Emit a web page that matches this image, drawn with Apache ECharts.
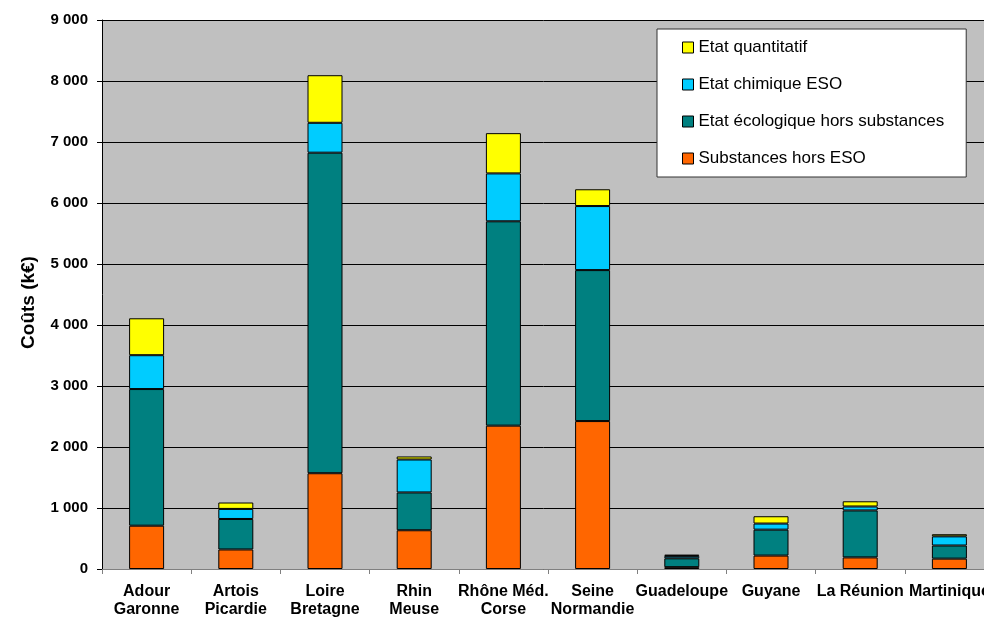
<!DOCTYPE html>
<html>
<head>
<meta charset="utf-8">
<script src="https://cdn.jsdelivr.net/npm/echarts@6/dist/echarts.min.js"></script>
<style>
  html, body { margin: 0; padding: 0; background: #fff; }
  #chart { width: 984px; height: 617px; }
</style>
</head>
<body>
<div id="chart"></div>
<script>
// Bassins (two-line labels)
const categories = [
  'Adour\nGaronne', 'Artois\nPicardie', 'Loire\nBretagne', 'Rhin\nMeuse',
  'Rhône Méd.\nCorse', 'Seine\nNormandie', 'Guadeloupe', 'Guyane',
  'La Réunion', 'Martinique'
];

// Coûts par composante (k€), stacked bottom to top
const substancesHorsESO   = [710, 320, 1570, 635, 2350, 2425, 30, 220, 190, 170];
const ecologiqueHorsSubst = [2240, 500, 5255, 620, 3350, 2475, 145, 425, 770, 215];
const chimiqueESO         = [555, 165, 490, 540, 785, 1050, 40, 100, 65, 150];
const quantitatif         = [605, 105, 780, 50, 660, 275, 20, 120, 85, 35];

const yTicks = { min: 0, max: 9000, interval: 1000 };

const seriesNames = {
  subst: 'Substances hors ESO',
  eco: 'Etat écologique hors substances',
  chim: 'Etat chimique ESO',
  quant: 'Etat quantitatif'
};

const colors = {
  subst: '#FF6600',
  eco: '#008080',
  chim: '#00CCFF',
  quant: '#FFFF00'
};

const FONT = 'Liberation Sans, Arial, sans-serif';

function fmtThousands(v) {
  return String(v).replace(/\B(?=(\d{3})+(?!\d))/g, ' ');
}

function barSeries(key, data) {
  return {
    name: seriesNames[key],
    type: 'bar',
    stack: 'total',
    data: data,
    barWidth: 35,
    itemStyle: { color: colors[key], borderColor: '#000', borderWidth: 1 },
    emphasis: { disabled: true }
  };
}

const chart = echarts.init(document.getElementById('chart'), null, { renderer: 'canvas' });

chart.setOption({
  animation: false,
  backgroundColor: '#ffffff',
  textStyle: { fontFamily: FONT },
  grid: {
    left: 102, top: 20, bottom: 48, width: 892,
    outerBoundsMode: 'none',
    containLabel: false,
    show: true, backgroundColor: '#C0C0C0', borderWidth: 0
  },
  legend: {
    orient: 'vertical',
    left: 657, top: 29,
    data: [seriesNames.quant, seriesNames.chim, seriesNames.eco, seriesNames.subst],
    backgroundColor: '#ffffff',
    borderColor: '#333',
    borderWidth: 1,
    borderRadius: 0,
    padding: [10, 22, 10, 25],
    itemWidth: 11, itemHeight: 11,
    itemGap: 20,
    icon: 'rect',
    itemStyle: { borderColor: '#000', borderWidth: 1 },
    textStyle: { fontSize: 17, color: '#000', fontFamily: FONT }
  },
  xAxis: {
    type: 'category',
    data: categories,
    axisLine: { lineStyle: { color: '#808080', width: 1 } },
    axisTick: { show: true, length: 5, lineStyle: { color: '#808080' } },
    axisLabel: {
      interval: 0, margin: 14, color: '#000', fontWeight: 'bold', fontSize: 16,
      lineHeight: 18, fontFamily: FONT
    },
    splitLine: { show: false }
  },
  yAxis: {
    type: 'value',
    min: yTicks.min, max: yTicks.max, interval: yTicks.interval,
    name: 'Coûts (k€)',
    nameLocation: 'middle',
    nameGap: 64,
    nameTextStyle: {
      fontWeight: 'bold', fontSize: 19, color: '#000', fontFamily: FONT,
      padding: [0, 16, 0, 0]
    },
    axisLine: { show: true, lineStyle: { color: '#000', width: 1 } },
    axisTick: { show: true, length: 5, lineStyle: { color: '#000' } },
    axisLabel: {
      margin: 14, color: '#000', fontWeight: 'bold', fontSize: 15,
      fontFamily: FONT,
      formatter: fmtThousands
    },
    splitLine: { show: true, lineStyle: { color: '#000', width: 1 } }
  },
  series: [
    barSeries('subst', substancesHorsESO),
    barSeries('eco', ecologiqueHorsSubst),
    barSeries('chim', chimiqueESO),
    barSeries('quant', quantitatif)
  ]
});
</script>
</body>
</html>
